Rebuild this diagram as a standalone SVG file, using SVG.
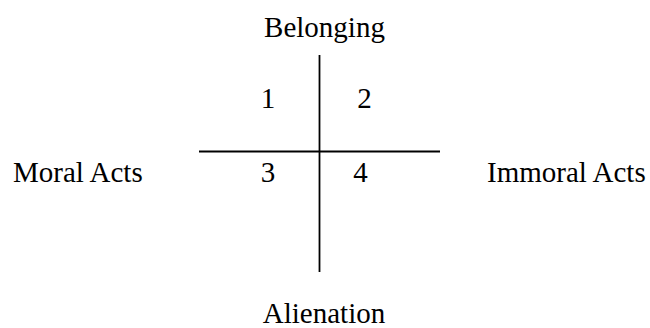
<svg xmlns="http://www.w3.org/2000/svg" width="650" height="328" viewBox="0 0 650 328">
<style>
.t{font-family:"Liberation Serif","Times New Roman",serif;font-size:29px;fill:#000}
.c{text-anchor:middle}
.ax{stroke:#000;stroke-width:1.8;fill:none}
</style>
<rect width="650" height="328" fill="#fff"/>
<g id="connectors">
<line class="ax" x1="319.5" y1="55" x2="319.5" y2="272"/>
<line class="ax" x1="199" y1="151.5" x2="440" y2="151.5"/>
</g>
<g id="belonging"><text class="t c" x="324.5" y="37">Belonging</text></g>
<g id="alienation"><text class="t c" x="324" y="323">Alienation</text></g>
<g id="moral"><text class="t" x="13" y="182">Moral Acts</text></g>
<g id="immoral"><text class="t" x="487" y="182">Immoral Acts</text></g>
<g id="q1"><text class="t c" x="268" y="108">1</text></g>
<g id="q2"><text class="t c" x="364.5" y="108">2</text></g>
<g id="q3"><text class="t c" x="268" y="182">3</text></g>
<g id="q4"><text class="t c" x="360.5" y="182">4</text></g>
</svg>
